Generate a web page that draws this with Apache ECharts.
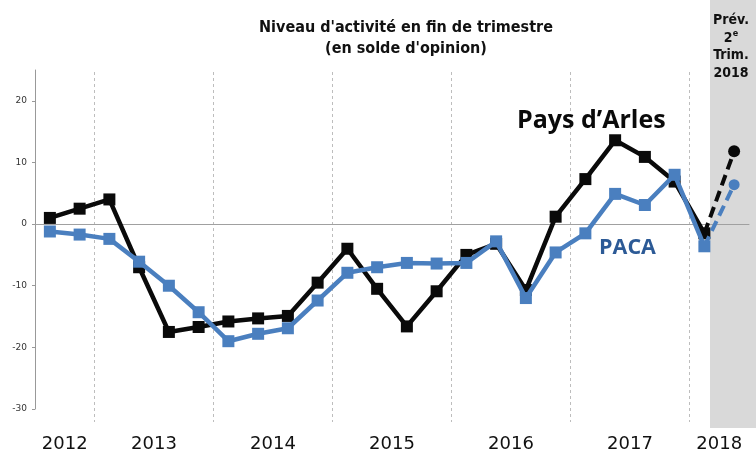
<!DOCTYPE html>
<html>
<head>
<meta charset="utf-8">
<script src="https://cdn.jsdelivr.net/npm/echarts@6/dist/echarts.min.js"></script>
<style>
html,body{margin:0;padding:0;background:#fff;}
#chart{width:756px;height:453px;}
</style>
</head>
<body>
<div id="chart"></div>
<script>
// ---- data ----
var quarters = ['T3 2012','T4 2012',
  'T1 2013','T2 2013','T3 2013','T4 2013',
  'T1 2014','T2 2014','T3 2014','T4 2014',
  'T1 2015','T2 2015','T3 2015','T4 2015',
  'T1 2016','T2 2016','T3 2016','T4 2016',
  'T1 2017','T2 2017','T3 2017','T4 2017',
  'T1 2018','T2 2018'];
var years = ['2012','2013','2014','2015','2016','2017','2018'];
var arles = [1, 2.5, 4, -7, -17.5, -16.7, -15.8, -15.3, -14.9, -9.5, -4, -10.5,
  -16.6, -10.9, -5, -3.2, -10.7, 1.2, 7.3, 13.6, 10.9, 6.9, -1.5];
var paca = [-1.2, -1.7, -2.4, -6.1, -10, -14.3, -19, -17.8, -16.9, -12.4, -7.9, -7,
  -6.3, -6.4, -6.3, -2.8, -12, -4.6, -1.5, 4.9, 3.1, 8, -3.6];
var arlesPrev = 11.8;   // prévision T2 2018
var pacaPrev = 6.4;
var yTicks = [-30, -20, -10, 0, 10, 20];

// ---- helpers ----
function actual(arr){ return arr.concat(['-']); }
function forecast(arr, prev){
  var d = arr.map(function(){ return '-'; });
  d[arr.length - 1] = {value: arr[arr.length - 1], symbol: 'none'};
  d.push({value: prev, symbol: 'circle'});
  return d;
}
// year label positions: middle of each year's quarters (in quarter units)
var yearPos = years.map(function(y){
  var idx = [];
  quarters.forEach(function(q, i){ if (q.slice(3) === y) idx.push(i); });
  return (idx[0] + idx[idx.length - 1] + 1) / 2;
});

var BLACK = '#0a0a0a', BLUE = '#4a7fbf', DARKBLUE = '#2c5a96';

var chart = echarts.init(document.getElementById('chart'), null, {renderer: 'canvas'});
chart.setOption({
  animation: false,
  backgroundColor: '#fff',
  grid: [
    {left: 35, right: 7, top: 70, bottom: 43},
    {left: 35, right: 7, top: 72, bottom: 31}
  ],
  xAxis: [
    {
      type: 'category', gridIndex: 0, data: quarters, boundaryGap: true, z: 3,
      axisLine: {show: true, onZero: true, lineStyle: {color: '#a0a0a0', width: 1}},
      axisTick: {show: false}, axisLabel: {show: false}, splitLine: {show: false}
    },
    {
      type: 'value', gridIndex: 0, min: 0, max: quarters.length, position: 'bottom',
      axisLine: {show: false, onZero: false}, axisTick: {show: false}, splitLine: {show: false},
      axisLabel: {
        customValues: yearPos,
        margin: 26,
        fontFamily: 'DejaVu Sans', fontSize: 18, color: '#111',
        formatter: function(v){
          for (var i = 0; i < yearPos.length; i++) if (Math.abs(yearPos[i] - v) < 1e-6) return years[i];
          return '';
        }
      }
    },
    {
      type: 'category', gridIndex: 1, data: quarters, boundaryGap: true, z: 0,
      axisLine: {show: false}, axisTick: {show: false}, axisLabel: {show: false},
      splitLine: {
        show: true,
        interval: function(i){ return quarters[i].indexOf('T1') === 0; },
        lineStyle: {color: '#bdbdbd', width: 1, type: [3, 3]}
      }
    }
  ],
  yAxis: [
    {
      type: 'value', gridIndex: 0, min: -30, max: 25,
      axisLine: {show: true, onZero: false, lineStyle: {color: '#999', width: 1}},
      axisTick: {show: true, length: 3, customValues: yTicks, lineStyle: {color: '#999'}},
      axisLabel: {customValues: yTicks, margin: 8, fontFamily: 'DejaVu Sans', fontSize: 9, color: '#333'},
      splitLine: {show: false}
    },
    {type: 'value', gridIndex: 1, show: false, min: 0, max: 1}
  ],
  graphic: [
    {type: 'rect', z: 1, silent: true, shape: {x: 710, y: 0, width: 46, height: 428}, style: {fill: '#d9d9d9'}},
    {type: 'text', z: 10, silent: true, style: {
      text: "Niveau d'activité en fin de trimestre\n(en solde d'opinion)",
      x: 406, y: 38.5, align: 'center', verticalAlign: 'middle',
      fontFamily: 'DejaVu Sans Condensed', fontWeight: 'bold', fontSize: 16, lineHeight: 21, fill: '#111'
    }},
    {type: 'text', z: 10, silent: true, style: {
      text: '{b|Prév.}\n{b|2}{s|e}\n{b|Trim.}\n{b|2018}',
      x: 731, y: 47, align: 'center', verticalAlign: 'middle',
      rich: {
        b: {fontFamily: 'DejaVu Sans Condensed', fontWeight: 'bold', fontSize: 14, lineHeight: 17.5, fill: '#111', align: 'center'},
        s: {fontFamily: 'DejaVu Sans Condensed', fontWeight: 'bold', fontSize: 9, lineHeight: 17.5, fill: '#111', verticalAlign: 'top', padding: [0, 0, 6, 0]}
      }
    }},
    {type: 'text', z: 10, silent: true, style: {
      text: 'Pays d\u2019Arles', x: 517, y: 121, align: 'left', verticalAlign: 'middle',
      fontFamily: 'Open Sans', fontWeight: 'bold', fontSize: 25, fill: BLACK
    }},
    {type: 'text', z: 10, silent: true, style: {
      text: 'PACA', x: 627.5, y: 247.5, align: 'center', verticalAlign: 'middle',
      fontFamily: 'Open Sans', fontWeight: 'bold', fontSize: 21.5, fill: DARKBLUE
    }}
  ],
  series: [
    {
      name: "Pays d'Arles", type: 'line', xAxisIndex: 0, yAxisIndex: 0, data: actual(arles),
      symbol: 'rect', symbolSize: 12, showAllSymbol: true, silent: true, z: 3,
      lineStyle: {color: BLACK, width: 4.5}, itemStyle: {color: BLACK}
    },
    {
      name: "Pays d'Arles prév.", type: 'line', xAxisIndex: 0, yAxisIndex: 0, data: forecast(arles, arlesPrev),
      symbol: 'circle', symbolSize: 12, showAllSymbol: true, silent: true, z: 3,
      lineStyle: {color: BLACK, width: 4, type: [11, 6]}, itemStyle: {color: BLACK}
    },
    {
      name: 'PACA', type: 'line', xAxisIndex: 0, yAxisIndex: 0, data: actual(paca),
      symbol: 'rect', symbolSize: 12, showAllSymbol: true, silent: true, z: 4,
      lineStyle: {color: BLUE, width: 4.5}, itemStyle: {color: BLUE}
    },
    {
      name: 'PACA prév.', type: 'line', xAxisIndex: 0, yAxisIndex: 0, data: forecast(paca, pacaPrev),
      symbol: 'circle', symbolSize: 11, showAllSymbol: true, silent: true, z: 4,
      lineStyle: {color: BLUE, width: 4, type: [11, 6]}, itemStyle: {color: BLUE}
    }
  ]
});
</script>
</body>
</html>
